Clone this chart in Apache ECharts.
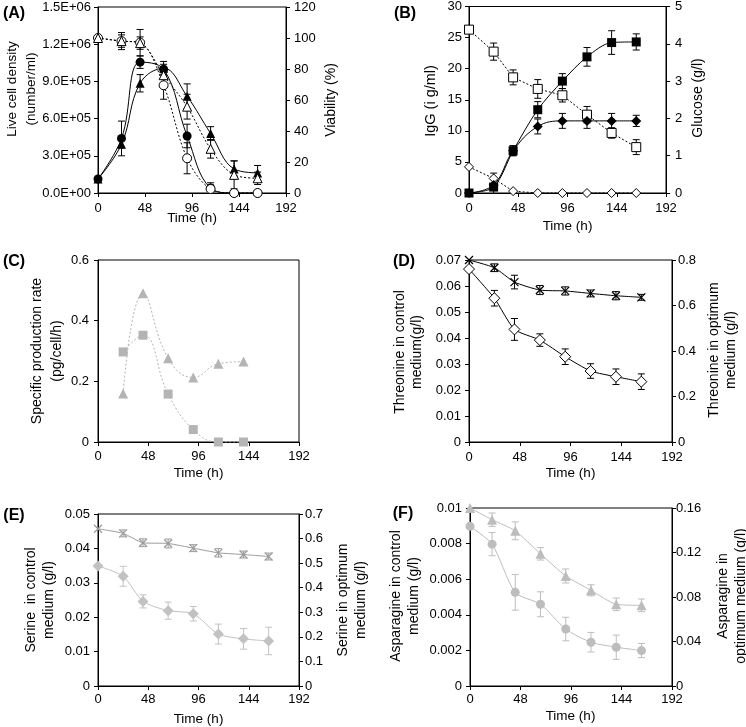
<!DOCTYPE html>
<html><head><meta charset="utf-8">
<script src="https://cdn.jsdelivr.net/npm/echarts@6/dist/echarts.min.js"></script>
<style>html,body{margin:0;padding:0;background:#fff}#c{width:746px;height:727px}</style>
</head><body><div id="c"></div>
<script>
// ---------- data ----------
const time = [0, 24, 43, 67, 91, 115, 139, 163];
const timeC = [24, 43, 67, 91, 115, 139];
const timeF = [0, 21, 43, 67, 91, 115, 139, 163];
const xTicks = [0, 48, 96, 144, 192];

// (A)
const densCircle = [1.13e5, 4.4e5, 1.055e6, 9.98e5, 4.6e5, 4.0e4, 0, 0];
const densCircleErr = [0, 1.4e5, 0.5e5, 0.4e5, 0.95e5, 0.25e5, 0, 0];
const densTri = [1.13e5, 3.94e5, 8.85e5, 1.006e6, 7.8e5, 4.8e5, 1.94e5, 1.62e5];
const densTriErr = [0, 0.3e5, 0.7e5, 0.55e5, 1.0e5, 0.55e5, 0.65e5, 0.6e5];
const viabCircle = [100, 98, 97, 69.5, 22.4, 2.6, 0, 0];
const viabCircleErr = [0, 5.5, 8.5, 9, 10, 4, 0, 0];
const viabTri = [100, 98, 96.7, 76, 55.7, 28.5, 11.7, 9.5];
const viabTriErr = [0, 4, 4, 5, 8, 6, 9, 4];
// (B)
const iggSquare = [0, 0.95, 6.8, 13.4, 18.0, 21.9, 24.2, 24.3];
const iggSquareErr = [0, 0.5, 0.8, 1.3, 1.2, 1.5, 1.9, 1.3];
const iggDiamond = [0, 1.3, 6.8, 10.7, 11.6, 11.6, 11.6, 11.6];
const iggDiamondErr = [0, 1.9, 0.8, 1.2, 1.2, 1.2, 1.2, 0.9];
const glcSquare = [4.38, 3.79, 3.10, 2.79, 2.62, 2.10, 1.61, 1.23];
const glcSquareErr = [0, 0.23, 0.2, 0.25, 0.18, 0.22, 0.14, 0.2];
const glcDiamond = [0.70, 0.39, 0.05, 0, 0, 0, 0, 0];
// (C)
const qpTri = [0.160, 0.490, 0.276, 0.213, 0.258, 0.265];
const qpSquare = [0.297, 0.352, 0.158, 0.041, 0, 0];
// (D)
const thrOpt = [0.8, 0.766, 0.703, 0.668, 0.664, 0.653, 0.643, 0.636];
const thrOptErr = [0, 0.017, 0.03, 0.02, 0.018, 0.015, 0.018, 0.013];
const thrCtrl = [0.0665, 0.0553, 0.0433, 0.0392, 0.0328, 0.0273, 0.0251, 0.0232];
const thrCtrlErr = [0, 0.003, 0.0042, 0.0024, 0.003, 0.0028, 0.003, 0.003];
// (E)
const serOpt = [0.640, 0.621, 0.583, 0.580, 0.561, 0.542, 0.535, 0.527];
const serOptErr = [0, 0.014, 0.016, 0.018, 0.014, 0.017, 0.014, 0.014];
const serCtrl = [0.0349, 0.0319, 0.0246, 0.0219, 0.0210, 0.0151, 0.0137, 0.0131];
const serCtrlErr = [0, 0.0029, 0.0019, 0.0025, 0.0021, 0.0029, 0.003, 0.004];
// (F)
const asnCtrl = [0.00897, 0.00797, 0.00526, 0.00459, 0.00320, 0.00246, 0.00218, 0.00199];
const asnCtrlErr = [0, 0.00065, 0.001, 0.0007, 0.00066, 0.00055, 0.00068, 0.0004];
const asnOpt = [0.160, 0.1495, 0.1395, 0.1188, 0.0989, 0.086, 0.0734, 0.0725];
const asnOptErr = [0, 0.006, 0.008, 0.0056, 0.0063, 0.005, 0.0057, 0.0057];

// ---------- helpers ----------
const FONT = '"Liberation Sans", Arial, sans-serif';
const num = v => String(parseFloat(v.toFixed(6)));
const sci = v => {
  if (v === 0) return '0.0E+00';
  const e = Math.floor(Math.log10(v) + 1e-9);
  return (v / Math.pow(10, e)).toFixed(1) + 'E+' + String(e).padStart(2, '0');
};
const grids = [], xAxes = [], yAxes = [], series = [], graphics = [];

function panel(p) {
  const gi = grids.length;
  grids.push({left: p.box[0], top: p.box[1], width: p.box[2], height: p.box[3],
    show: true, borderColor: '#000', borderWidth: 1, backgroundColor: 'rgba(0,0,0,0)'});
  xAxes.push({gridIndex: gi, type: 'value', min: xTicks[0], max: xTicks[xTicks.length - 1],
    interval: xTicks[1] - xTicks[0],
    axisLine: {show: true, onZero: false, lineStyle: {color: '#000', width: 1}},
    axisTick: {show: true, length: 4, lineStyle: {color: '#000'}},
    axisLabel: {color: '#000', fontSize: 13, fontFamily: FONT, margin: p.xm},
    splitLine: {show: false}});
  const y0 = yAxes.length;
  p.y.forEach((ax, k) => {
    yAxes.push({gridIndex: gi, type: 'value', position: k ? 'right' : 'left',
      min: 0, max: ax.max, interval: ax.step, show: ax.show !== false,
      axisLine: {show: true, onZero: false, lineStyle: {color: '#000', width: 1}},
      axisTick: {show: true, length: 4, lineStyle: {color: '#000'}},
      axisLabel: {color: '#000', fontSize: 13, fontFamily: FONT, margin: ax.m, formatter: ax.fmt || num},
      splitLine: {show: false}});
  });
  return {gi, y0};
}

function line(ref, k, xs, ys, o) {
  series.push({type: 'line', xAxisIndex: ref.gi, yAxisIndex: ref.y0 + k,
    data: xs.map((x, i) => [x, ys[i]]),
    symbol: o.sym, symbolSize: o.size, smooth: o.smooth || false, showSymbol: true,
    lineStyle: {color: o.line, width: 1, type: o.dash ? [2, 2] : 'solid'},
    itemStyle: {color: o.fill, borderColor: o.stroke || o.fill, borderWidth: o.bw || 0, opacity: 1},
    z: 3, silent: true, animation: false});
}

function errs(ref, k, xs, ys, es, color) {
  series.push({type: 'custom', xAxisIndex: ref.gi, yAxisIndex: ref.y0 + k,
    data: xs.map((x, i) => [x, ys[i], es[i]]), encode: {x: 0, y: 1},
    silent: true, z: 2, animation: false, clip: true,
    renderItem: (params, api) => {
      const x = api.value(0), y = api.value(1), e = api.value(2);
      if (!e) return null;
      const a = api.coord([x, y + e]), b = api.coord([x, y - e]);
      const c = 3.5, st = {stroke: color, lineWidth: 1};
      return {type: 'group', children: [
        {type: 'line', shape: {x1: a[0], y1: a[1], x2: b[0], y2: b[1]}, style: st},
        {type: 'line', shape: {x1: a[0] - c, y1: a[1], x2: a[0] + c, y2: a[1]}, style: st},
        {type: 'line', shape: {x1: b[0] - c, y1: b[1], x2: b[0] + c, y2: b[1]}, style: st}
      ]};
    }});
}

function txt(x, y, s, rot, o) {
  o = o || {};
  graphics.push({type: 'text', x: x, y: y, rotation: rot ? Math.PI / 2 : 0, silent: true,
    style: {text: s, fontSize: o.fs || 14, fontFamily: FONT, fontWeight: o.bold ? 'bold' : 'normal',
      fill: '#000', align: 'center', verticalAlign: 'middle', lineHeight: o.lh || 18}});
}

const XMARK = 'path://M0,0L10,10M10,0L0,10';
const BLK = '#000';
const TFS = 13.5;

// ---------- (A) ----------
const A = panel({box: [98, 7, 188, 186], xm: 9,
  y: [{max: 1.5e6, step: 3e5, m: 7, fmt: sci}, {max: 120, step: 20, m: 8}]});
errs(A, 0, time, densCircle, densCircleErr, BLK);
errs(A, 0, time, densTri, densTriErr, BLK);
errs(A, 1, time, viabCircle, viabCircleErr, BLK);
errs(A, 1, time, viabTri, viabTriErr, BLK);
line(A, 0, time, densCircle, {sym: 'circle', size: 9, line: BLK, smooth: 0.4, fill: BLK});
line(A, 0, time, densTri, {sym: 'triangle', size: 9, line: BLK, smooth: 0.4, fill: BLK});
line(A, 1, time, viabCircle, {sym: 'circle', size: 9, line: BLK, dash: true, smooth: 0.35, fill: '#fff', stroke: BLK, bw: 1});
line(A, 1, time, viabTri, {sym: 'triangle', size: 9, line: BLK, dash: true, smooth: 0.35, fill: '#fff', stroke: BLK, bw: 1});
txt(14, 14, '(A)', false, {fs: 16, bold: true});
txt(22, 89, 'Live cell density\n(number/ml)', true, {lh: 19, fs: 13.5});
txt(331.5, 100, 'Viability (%)', true);
txt(192, 218, 'Time (h)', false, {fs: TFS});

// ---------- (B) ----------
const B = panel({box: [469, 4, 197, 189], xm: 9,
  y: [{max: 30, step: 5, m: 7}, {max: 5, step: 1, m: 9}]});
errs(B, 0, time, iggSquare, iggSquareErr, BLK);
errs(B, 0, time, iggDiamond, iggDiamondErr, BLK);
errs(B, 1, time, glcSquare, glcSquareErr, BLK);
line(B, 1, time, glcSquare, {sym: 'rect', size: 9, line: BLK, dash: true, fill: '#fff', stroke: BLK, bw: 1});
line(B, 1, time, glcDiamond, {sym: 'diamond', size: 9, line: BLK, dash: true, fill: '#fff', stroke: BLK, bw: 1});
line(B, 0, time, iggDiamond, {sym: 'diamond', size: 10, line: BLK, smooth: 0.4, fill: BLK});
line(B, 0, time, iggSquare, {sym: 'rect', size: 9, line: BLK, smooth: 0.3, fill: BLK});
txt(405, 14, '(B)', false, {fs: 16, bold: true});
txt(430.5, 101, 'IgG (i g/ml)', true, {fs: 14.5});
txt(698.5, 98, 'Glucose (g/l)', true);
txt(567.5, 226.5, 'Time (h)', false, {fs: TFS});

// ---------- (C) ----------
const CG = '#b4b4b4';
const C = panel({box: [98, 260, 201, 182], xm: 8,
  y: [{max: 0.6, step: 0.2, m: 9}, {max: 0.6, step: 0.2, m: 8, show: false}]});
line(C, 0, timeC, qpTri, {sym: 'triangle', size: 10, line: CG, dash: true, smooth: 0.45, fill: CG});
line(C, 0, timeC, qpSquare, {sym: 'rect', size: 9, line: CG, dash: true, smooth: 0.45, fill: CG});
txt(14, 261.5, '(C)', false, {fs: 16, bold: true});
txt(47.5, 351, 'Specific production rate\n(pg/cell/h)', true, {lh: 20});
txt(198.5, 473, 'Time (h)', false, {fs: TFS});

// ---------- (D) ----------
const D = panel({box: [469, 260, 203, 182], xm: 9,
  y: [{max: 0.07, step: 0.01, m: 8}, {max: 0.8, step: 0.2, m: 6}]});
errs(D, 1, time, thrOpt, thrOptErr, BLK);
errs(D, 0, time, thrCtrl, thrCtrlErr, BLK);
line(D, 1, time, thrOpt, {sym: XMARK, size: 8, line: BLK, smooth: 0.2, fill: 'rgba(0,0,0,0)', stroke: BLK, bw: 1.2});
line(D, 0, time, thrCtrl, {sym: 'diamond', size: 11, line: BLK, smooth: 0.2, fill: '#fff', stroke: BLK, bw: 1});
txt(404, 261.5, '(D)', false, {fs: 16, bold: true});
txt(409, 352, 'Threonine in control\nmedium(g/l)', true, {lh: 17});
txt(722.5, 350, 'Threonine in optimum\nmedium (g/l)', true, {lh: 17});
txt(570.5, 473, 'Time (h)', false, {fs: TFS});

// ---------- (E) ----------
const EL = '#c2c2c2', EX = '#9c9c9c';
const E = panel({box: [98, 514, 201, 172], xm: 7,
  y: [{max: 0.05, step: 0.01, m: 8}, {max: 0.7, step: 0.1, m: 6}]});
errs(E, 1, time, serOpt, serOptErr, EX);
errs(E, 0, time, serCtrl, serCtrlErr, EL);
line(E, 1, time, serOpt, {sym: XMARK, size: 8, line: EX, smooth: 0.2, fill: 'rgba(0,0,0,0)', stroke: EX, bw: 1.2});
line(E, 0, time, serCtrl, {sym: 'diamond', size: 11, line: EL, smooth: 0.25, fill: EL});
txt(14, 516, '(E)', false, {fs: 16, bold: true});
txt(40, 600, 'Serine  in control\nmedium (g/l)', true, {lh: 18});
txt(352, 600, 'Serine in optimum\nmedium (g/l)', true, {lh: 18.5});
txt(198.5, 719, 'Time (h)', false, {fs: TFS});

// ---------- (F) ----------
const FG = '#bdbdbd';
const F = panel({box: [470, 508, 202, 178], xm: 7,
  y: [{max: 0.01, step: 0.002, m: 8}, {max: 0.16, step: 0.04, m: 4}]});
errs(F, 0, timeF, asnCtrl, asnCtrlErr, FG);
errs(F, 1, timeF, asnOpt, asnOptErr, FG);
line(F, 1, timeF, asnOpt, {sym: 'triangle', size: 10, line: FG, smooth: 0.2, fill: FG});
line(F, 0, timeF, asnCtrl, {sym: 'circle', size: 9, line: FG, smooth: 0.25, fill: FG});
txt(403, 514, '(F)', false, {fs: 16, bold: true});
txt(405, 596, 'Asparagine in control\nmedium (g/l)', true, {lh: 17.5});
txt(732, 596, 'Asparagine in\noptimum medium (g/l)', true, {lh: 18.5});
txt(570.5, 716, 'Time (h)', false, {fs: TFS});

const chart = echarts.init(document.getElementById('c'), null, {renderer: 'canvas'});
chart.setOption({
  animation: false,
  backgroundColor: '#fff',
  grid: grids, xAxis: xAxes, yAxis: yAxes, series: series, graphic: graphics
});
</script>
</body></html>
